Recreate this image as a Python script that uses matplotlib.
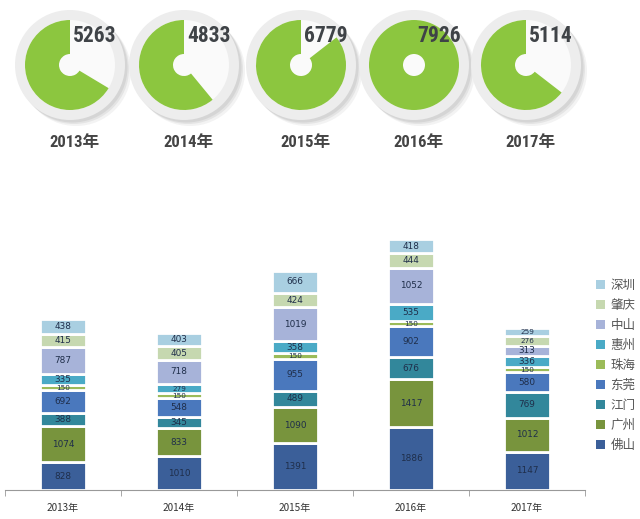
import matplotlib
matplotlib.use("Agg")
import matplotlib.pyplot as plt
from matplotlib.patches import Circle, Wedge, Patch
import numpy as np

plt.rcParams['font.family'] = ['Noto Sans CJK SC', 'DejaVu Sans']

years = ['2013年', '2014年', '2015年', '2016年', '2017年']
totals = [5263, 4833, 6779, 7926, 5114]

cities = ['佛山', '广州', '江门', '东莞', '珠海', '惠州', '中山', '肇庆', '深圳']
foshan    = [828, 1010, 1391, 1886, 1147]
guangzhou = [1074, 833, 1090, 1417, 1012]
jiangmen  = [388, 345, 489, 676, 769]
dongguan  = [692, 548, 955, 902, 580]
zhuhai    = [150, 150, 150, 150, 150]
huizhou   = [335, 279, 358, 535, 336]
zhongshan = [787, 718, 1019, 1052, 313]
zhaoqing  = [415, 405, 424, 444, 276]
shenzhen  = [438, 403, 666, 418, 259]
series = [foshan, guangzhou, jiangmen, dongguan, zhuhai, huizhou, zhongshan, zhaoqing, shenzhen]
colors = ['#3b5f99', '#78943d', '#32879b', '#4a78bd', '#9bbb59',
          '#4aaac6', '#a7b3d9', '#c6d8b0', '#a9cfe1']

fig = plt.figure(figsize=(6.4, 5.19), dpi=100)

# ---- top: donut indicators (pixel coordinates) ----
axt = fig.add_axes([0, 1 - 160 / 519, 1, 160 / 519])
axt.set_xlim(0, 640)
axt.set_ylim(160, 0)
axt.axis('off')

centers = [70, 184, 301, 414, 526]
cy = 65
vmax = max(totals)
narrow = ['Roboto Condensed', 'Roboto', 'DejaVu Sans']
for cx, tot, yr in zip(centers, totals, years):
    for k, (dx, a) in enumerate([(6, 0.10), (4, 0.14), (2.5, 0.16)]):
        axt.add_patch(Circle((cx + dx, cy + dx), 55, color='#8a8a8a', alpha=a, lw=0))
    axt.add_patch(Circle((cx, cy), 55, color='#ededed', lw=0))
    axt.add_patch(Circle((cx, cy), 45, color='#fafafa', lw=0))
    span = 360.0 * tot / vmax
    if span >= 359.9:
        axt.add_patch(Wedge((cx, cy), 45, 0, 360, width=34, color='#8cc63f', lw=0))
    else:
        axt.add_patch(Wedge((cx, cy), 45, 270 - span, 270, width=34, color='#8cc63f', lw=0))
    axt.text(cx + 25, 36, str(tot), ha='center', va='center', fontsize=15.5,
             fontweight='bold', color='#3f4347', family=narrow)
    axt.text(cx + 4, 143, yr, ha='center', va='center', fontsize=12,
             fontweight='bold', color='#454545',
             family=['Roboto Condensed', 'Roboto', 'Noto Sans CJK SC'])

# ---- bottom: stacked bars ----
ax = fig.add_axes([5 / 640, 29 / 519, 580 / 640, 268 / 519])
x = np.arange(len(years))
bottom = np.zeros(len(years))
handles = []
for name, vals, c in zip(cities, series, colors):
    vals = np.array(vals, dtype=float)
    ax.bar(x, vals, bottom=bottom, width=0.4, color=c, edgecolor='white', linewidth=2.0)
    for xi, v, b in zip(x, vals, bottom):
        fs = 5.2 if v < 300 else 6.4
        ax.text(xi, b + v / 2, f'{int(v)}', ha='center', va='center', fontsize=fs,
                color='#1f2e4a', family='DejaVu Sans')
    bottom += vals
    handles.append(Patch(facecolor=c, edgecolor='none', label=name))

ax.set_xlim(-0.5, 4.5)
ax.set_ylim(0, 8000)
for s in ['top', 'right', 'left']:
    ax.spines[s].set_visible(False)
ax.spines['bottom'].set_color('#999999')
ax.set_yticks([])
ax.set_xticks(x)
ax.set_xticklabels(years, fontsize=7.2, color='#333333')
ax.tick_params(axis='x', which='major', length=0, pad=9)
ax.set_xticks(np.arange(-0.5, 5, 1), minor=True)
ax.tick_params(axis='x', which='minor', length=4, color='#999999', direction='out')

leg = fig.legend(handles=handles[::-1], loc='upper left', bbox_to_anchor=(591 / 640, 1 - 274 / 519),
                 frameon=False, fontsize=9, handlelength=0.7, handleheight=0.7,
                 handletextpad=0.45, labelspacing=0.56, borderaxespad=0)
for t in leg.get_texts():
    t.set_color('#555555')

fig.savefig('out.png', dpi=100)
